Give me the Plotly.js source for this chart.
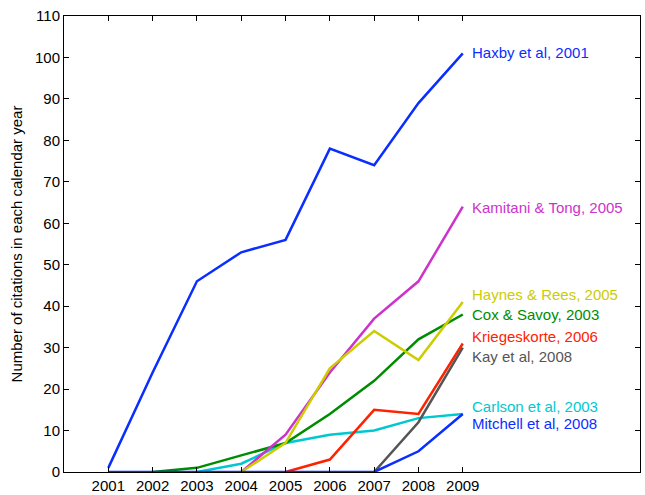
<!DOCTYPE html>
<html>
<head>
<meta charset="utf-8">
<script src="https://cdn.plot.ly/plotly-3.0.1.min.js"></script>
<style>html,body{margin:0;padding:0;background:#fff;}#chart{width:645px;height:495px;}</style>
</head>
<body>
<div id="chart"></div>
<script>
// Data
const names = ["Carlson et al, 2003", "Cox & Savoy, 2003", "Kamitani & Tong, 2005", "Haynes & Rees, 2005",
               "Kriegeskorte, 2006", "Kay et al, 2008", "Mitchell et al, 2008", "Haxby et al, 2001"];
const years = {
  carlson:  [2003, 2004, 2005, 2006, 2007, 2008, 2009],
  cox:      [2002, 2003, 2004, 2005, 2006, 2007, 2008, 2009],
  kamitani: [2004, 2005, 2006, 2007, 2008, 2009],
  haynes:   [2004, 2005, 2006, 2007, 2008, 2009],
  krieg:    [2005, 2006, 2007, 2008, 2009],
  kay:      [2007, 2008, 2009],
  mitchell: [2001, 2002, 2003, 2004, 2005, 2006, 2007, 2008, 2009],
  haxby:    [2001, 2002, 2003, 2004, 2005, 2006, 2007, 2008, 2009]
};
const carlson  = [0, 2, 7, 9, 10, 13, 14];
const cox      = [0, 1, 4, 7, 14, 22, 32, 38];
const kamitani = [0, 9, 24, 37, 46, 64];
const haynes   = [0, 7, 25, 34, 27, 41];
const krieg    = [0, 3, 15, 14, 31];
const kay      = [0, 12, 30];
const mitchell = [0, 0, 0, 0, 0, 0, 0, 5, 14];
const haxby    = [1, 24, 46, 53, 56, 78, 74, 89, 101];
const xTicks = [2001, 2002, 2003, 2004, 2005, 2006, 2007, 2008, 2009];

// style
const colors = ["#00c8d0", "#008c00", "#cc33cc", "#cccc00", "#ff2200", "#555555", "#0a2eff", "#0a2eff"];
const labelY = [15.8, 37.9, 63.7, 42.7, 32.6, 27.8, 11.6, 101.1];

const xs = [years.carlson, years.cox, years.kamitani, years.haynes, years.krieg, years.kay, years.mitchell, years.haxby];
const ys = [carlson, cox, kamitani, haynes, krieg, kay, mitchell, haxby];

const traces = ys.map((y, i) => ({
  x: xs[i], y: y, type: "scatter", mode: "lines", name: names[i],
  line: {color: colors[i], width: 2.5}, hoverinfo: "skip"
}));

const annotations = names.map((n, i) => ({
  x: 2009, y: labelY[i], xref: "x", yref: "y", text: n, showarrow: false,
  xanchor: "left", yanchor: "middle", xshift: 7,
  font: {family: "Liberation Sans, Arial, sans-serif", size: 15, color: colors[i]}
}));

const layout = {
  width: 645, height: 495,
  margin: {l: 64, r: 5, t: 16, b: 23, pad: 0},
  paper_bgcolor: "#fff", plot_bgcolor: "#fff",
  showlegend: false,
  font: {family: "Liberation Sans, Arial, sans-serif", size: 15, color: "#000"},
  xaxis: {
    range: [2000, 2013], tickvals: xTicks, ticktext: xTicks.map(String),
    showgrid: false, zeroline: false, showline: true, linecolor: "#000", linewidth: 1,
    mirror: "ticks", ticks: "inside", ticklen: 5, tickcolor: "#000", tickwidth: 1,
    tickfont: {size: 15}
  },
  yaxis: {
    range: [0, 110], dtick: 10, tick0: 0,
    showgrid: false, zeroline: false, showline: true, linecolor: "#000", linewidth: 1,
    mirror: "ticks", ticks: "inside", ticklen: 5, tickcolor: "#000", tickwidth: 1,
    tickfont: {size: 15},
    title: {text: "Number of citations in each calendar year", font: {size: 15}, standoff: 8}
  },
  annotations: annotations
};

Plotly.newPlot("chart", traces, layout, {displayModeBar: false, staticPlot: true});
</script>
</body>
</html>
